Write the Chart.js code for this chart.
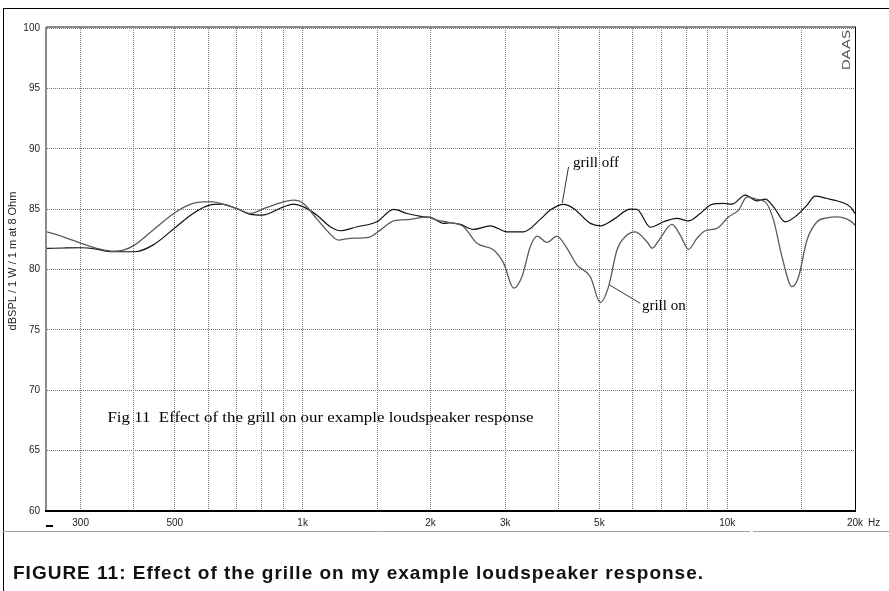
<!DOCTYPE html>
<html>
<head>
<meta charset="utf-8">
<script src="https://cdn.jsdelivr.net/npm/chart.js@4"></script>
<style>
  html, body { margin: 0; padding: 0; background: #fff; }
  #wrap { position: relative; width: 889px; height: 591px; overflow: hidden; }
  #caption {
    position: absolute; left: 13px; top: 562px;
    font: bold 19px "Liberation Sans", Arial, sans-serif;
    letter-spacing: 1px;
    color: #111; white-space: nowrap;
  }
</style>
</head>
<body>
<div id="wrap">
  <canvas id="chart" width="889" height="591"></canvas>
  <div id="caption">FIGURE 11: Effect of the grille on my example loudspeaker response.</div>
</div>
<script>
// --- data (Hz / dB SPL) ---
const offFreq = [250, 273, 301, 327, 354, 402, 444, 504, 552, 604, 643, 698, 753, 802, 902, 952, 1005, 1081, 1162, 1227, 1343, 1497, 1638, 1761, 1927, 2017, 2148, 2228, 2352, 2527, 2767, 3030, 3315, 3628, 3830, 4118, 4348, 4761, 5026, 5401, 5912, 6130, 6590, 7083, 7612, 8108, 8640, 9208, 9806, 10262, 11030, 11752, 12292, 12860, 13703, 14600, 15415, 16122, 17177, 18134, 19495, 20000];
const offDb   = [81.75, 81.78, 81.80, 81.69, 81.47, 81.47, 82.02, 83.54, 84.64, 85.33, 85.41, 85.06, 84.56, 84.50, 85.19, 85.41, 85.19, 84.50, 83.54, 83.21, 83.54, 83.95, 84.98, 84.64, 84.36, 84.28, 83.82, 83.87, 83.74, 83.32, 83.62, 83.12, 83.12, 84.15, 84.92, 85.39, 85.06, 83.82, 83.62, 84.15, 85.00, 84.98, 83.50, 83.95, 84.23, 84.03, 84.64, 85.39, 85.47, 85.41, 86.16, 85.69, 85.83, 85.19, 83.95, 84.50, 85.33, 86.07, 85.88, 85.69, 85.19, 84.64];

const onFreq = [250, 273, 301, 327, 354, 378, 402, 444, 504, 552, 583, 615, 649, 698, 757, 802, 902, 952, 1005, 1081, 1162, 1213, 1295, 1430, 1524, 1638, 1793, 1963, 2072, 2228, 2394, 2574, 2818, 2976, 3141, 3285, 3437, 3565, 3763, 3973, 4195, 4428, 4761, 5026, 5255, 5500, 5808, 6075, 6473, 6663, 6886, 7413, 7752, 8108, 8488, 8876, 9461, 10077, 10637, 11133, 11752, 12292, 12860, 13458, 14212, 14727, 15415, 16276, 17177, 18134, 19495, 20000];
const onDb   = [83.12, 82.71, 82.17, 81.75, 81.53, 81.61, 82.02, 83.26, 84.78, 85.47, 85.60, 85.60, 85.41, 85.06, 84.64, 84.98, 85.60, 85.74, 85.47, 84.17, 82.93, 82.44, 82.58, 82.66, 83.26, 84.03, 84.15, 84.36, 84.09, 83.87, 83.54, 82.17, 81.61, 80.51, 78.45, 79.40, 81.88, 82.77, 82.25, 82.77, 81.75, 80.37, 79.40, 77.26, 78.58, 81.61, 82.85, 83.12, 82.30, 81.77, 82.36, 83.74, 82.85, 81.67, 82.58, 83.21, 83.40, 84.36, 84.92, 86.02, 85.80, 85.60, 84.09, 81.06, 78.58, 79.40, 82.44, 83.95, 84.28, 84.36, 84.03, 83.68];

// --- axis ticks ---
const gridFreqs = [300, 400, 500, 600, 700, 800, 900, 1000, 1500, 2000, 3000, 4000, 5000, 6000, 7000, 8000, 9000, 10000, 15000, 20000];
const labeledFreqs = [300, 500, 1000, 2000, 3000, 5000, 10000, 20000];
const freqLabelText = ['300', '500', '1k', '2k', '3k', '5k', '10k', '20k'];
const dbTicks = [60, 65, 70, 75, 80, 85, 90, 95, 100];

const toPoints = (fs, ds) => fs.map((f, i) => ({ x: f, y: ds[i] }));
const tickFont = { size: 10, family: '"Liberation Sans", Arial, sans-serif' };

const decor = {
  id: 'decor',
  afterDraw: (chart) => {
    const { ctx, chartArea: { left, right, top, bottom }, scales: { x, y } } = chart;
    ctx.save();

    // outer frame + separator
    ctx.strokeStyle = '#000';
    ctx.lineWidth = 1;
    ctx.beginPath();
    ctx.moveTo(3, 8.5); ctx.lineTo(889, 8.5);
    ctx.moveTo(3.5, 8); ctx.lineTo(3.5, 591);
    ctx.stroke();
    ctx.strokeStyle = '#a0a0a0';
    ctx.beginPath();
    ctx.moveTo(3, 531.5); ctx.lineTo(750, 531.5);
    ctx.moveTo(753, 531.5); ctx.lineTo(889, 531.5);
    ctx.stroke();

    // plot borders
    ctx.strokeStyle = '#8a8a8a';
    ctx.lineWidth = 2;
    ctx.beginPath();
    ctx.moveTo(left - 1, top - 1); ctx.lineTo(right + 1, top - 1);
    ctx.moveTo(left - 1, top - 1); ctx.lineTo(left - 1, bottom);
    ctx.stroke();
    ctx.strokeStyle = '#000';
    ctx.beginPath();
    ctx.moveTo(left - 2, bottom); ctx.lineTo(right + 1, bottom);
    ctx.stroke();
    ctx.lineWidth = 1;
    ctx.beginPath();
    ctx.moveTo(right + 0.5, top - 1); ctx.lineTo(right + 0.5, bottom);
    ctx.stroke();

    // little marker under the axis origin
    ctx.fillStyle = '#000';
    ctx.fillRect(left - 1, bottom + 14, 7, 2);

    // Hz unit after the last tick label
    ctx.font = '10px "Liberation Sans", Arial, sans-serif';
    ctx.fillStyle = '#222';
    ctx.textAlign = 'left';
    ctx.textBaseline = 'middle';
    ctx.fillText('Hz', right + 13, bottom + 12);

    // y axis title
    ctx.save();
    ctx.translate(13, 261);
    ctx.rotate(-Math.PI / 2);
    ctx.font = '11px "Liberation Sans", Arial, sans-serif';
    ctx.textAlign = 'center';
    ctx.fillStyle = '#222';
    ctx.fillText('dBSPL / 1 W / 1 m at 8 Ohm', 0, 0);
    ctx.restore();

    // DAAS stamp
    ctx.save();
    ctx.translate(right - 8, top + 22);
    ctx.rotate(-Math.PI / 2);
    ctx.scale(1.45, 1);
    ctx.font = '10px "DejaVu Sans", sans-serif';
    ctx.textAlign = 'center';
    ctx.fillStyle = '#555';
    ctx.fillText('DAAS', 0, 0);
    ctx.restore();

    // annotations
    ctx.font = '15px "Liberation Serif", "Times New Roman", serif';
    ctx.fillStyle = '#000';
    ctx.textAlign = 'left';
    ctx.textBaseline = 'middle';
    ctx.fillText('grill off', x.getPixelForValue(4333), y.getPixelForValue(88.8));
    ctx.fillText('grill on', x.getPixelForValue(6298), y.getPixelForValue(76.94));

    // figure note, stretched to its width in the scan
    const note = 'Fig 11  Effect of the grill on our example loudspeaker response';
    ctx.font = '15px "Liberation Serif", "Times New Roman", serif';
    const nx = x.getPixelForValue(347);
    const ny = y.getPixelForValue(67.73);
    const sx = 426 / ctx.measureText(note).width;
    ctx.save();
    ctx.translate(nx, ny);
    ctx.scale(sx, 1);
    ctx.fillText(note, 0, 0);
    ctx.restore();

    ctx.strokeStyle = '#333';
    ctx.lineWidth = 1;
    ctx.beginPath();
    ctx.moveTo(x.getPixelForValue(4230), y.getPixelForValue(88.5));
    ctx.lineTo(x.getPixelForValue(4088), y.getPixelForValue(85.5));
    ctx.moveTo(x.getPixelForValue(5283), y.getPixelForValue(78.72));
    ctx.lineTo(x.getPixelForValue(6240), y.getPixelForValue(77.2));
    ctx.stroke();

    ctx.restore();
  }
};

new Chart(document.getElementById('chart'), {
  type: 'line',
  data: {
    datasets: [
      {
        label: 'grill on',
        data: toPoints(onFreq, onDb),
        borderColor: '#5a5a5a',
        borderWidth: 1.3,
        pointRadius: 0,
        fill: false,
        cubicInterpolationMode: 'monotone'
      },
      {
        label: 'grill off',
        data: toPoints(offFreq, offDb),
        borderColor: '#111',
        borderWidth: 1.2,
        pointRadius: 0,
        fill: false,
        cubicInterpolationMode: 'monotone'
      }
    ]
  },
  options: {
    responsive: false,
    animation: false,
    layout: { padding: { left: 0, top: 28, right: 34, bottom: 60 } },
    plugins: { legend: { display: false }, tooltip: { enabled: false } },
    scales: {
      x: {
        type: 'logarithmic',
        min: 250,
        max: 20000,
        afterBuildTicks: (s) => { s.ticks = gridFreqs.map(v => ({ value: v })); },
        afterFit: (s) => { s.height = 20; },
        ticks: {
          autoSkip: false,
          maxRotation: 0,
          padding: 6,
          color: '#222',
          font: tickFont,
          callback: (v) => {
            const i = labeledFreqs.indexOf(v);
            return i < 0 ? '' : freqLabelText[i];
          }
        },
        grid: { color: '#777', lineWidth: 1, drawTicks: false },
        border: { display: false, dash: [1, 1] }
      },
      y: {
        min: 60,
        max: 100,
        afterBuildTicks: (s) => { s.ticks = dbTicks.map(v => ({ value: v })); },
        afterFit: (s) => { s.width = 47; },
        ticks: { padding: 7, color: '#222', font: tickFont },
        grid: { color: '#777', lineWidth: 1, drawTicks: false },
        border: { display: false, dash: [1, 1] }
      }
    }
  },
  plugins: [decor]
});
</script>
</body>
</html>
